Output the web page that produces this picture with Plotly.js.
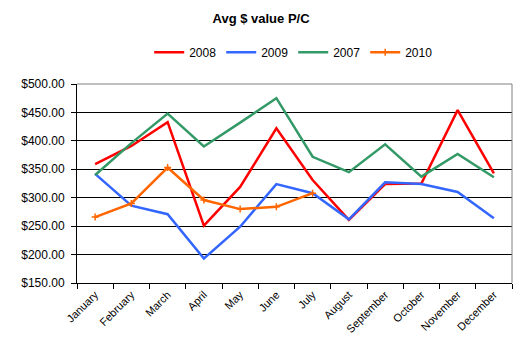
<!DOCTYPE html>
<html><head><meta charset="utf-8">
<script src="https://cdn.plot.ly/plotly-3.0.1.min.js"></script>
<style>body{margin:0;background:#fff}#c{width:519px;height:353px}</style>
</head><body><div id="c"></div>
<script>
const months = ["January","February","March","April","May","June","July","August","September","October","November","December"];
const v2008 = [359,391,433,251,319,422,331,261,324,325,454,343];
const v2009 = [342,286,271,193,249,324,308,262,327,324,310,264];
const v2007 = [340,396,448,390,432,475,372,345,394,337,377,336];
const v2010 = [266,290,353,296,280,284,308];
const yTicks = [150,200,250,300,350,400,450,500];
const yLabels = yTicks.map(v => "$" + v.toFixed(2));

const traces = [
  {name:"2008", x:months, y:v2008, mode:"lines", line:{color:"#ff0000", width:2.5}},
  {name:"2009", x:months, y:v2009, mode:"lines", line:{color:"#3366ff", width:2.5}},
  {name:"2007", x:months, y:v2007, mode:"lines", line:{color:"#339966", width:2.5}},
  {name:"2010", x:months.slice(0, v2010.length), y:v2010, mode:"lines+markers",
   line:{color:"#ff6600", width:2.5}, marker:{symbol:"cross-thin", size:5, color:"#ff6600", line:{color:"#ff6600", width:1.5}}}
];
const layout = {
  width:519, height:353,
  margin:{l:77, r:7, t:84, b:70},
  paper_bgcolor:"#fff", plot_bgcolor:"#fff",
  font:{family:"Arial, Liberation Sans, sans-serif", size:11, color:"#000"},
  title:{text:"<b>Avg $ value P/C</b>", x:0.503, xanchor:"center", y:0.948, yanchor:"middle", font:{size:13}},
  showlegend:true,
  legend:{orientation:"h", x:0.497, xanchor:"center", y:1.16, yref:"paper", yanchor:"middle", font:{size:12}, traceorder:"normal", entrywidth:27, entrywidthmode:"pixels"},
  xaxis:{type:"category", tickson:"boundaries", ticks:"outside", ticklen:5, tickcolor:"#000",
         showline:true, linecolor:"#000", linewidth:1, showgrid:false, tickangle:-45,
         tickfont:{size:11}, range:[-0.5, 11.5], fixedrange:true},
  yaxis:{range:[150,500], tickvals:yTicks, ticktext:yLabels, ticks:"outside", ticklen:5, tickcolor:"#000",
         showline:true, linecolor:"#000", linewidth:1, showgrid:true, gridcolor:"#000", gridwidth:1,
         zeroline:false, tickfont:{size:12}, ticklabelstandoff:4},
  shapes:[
    {type:"line", xref:"paper", yref:"paper", x0:0, x1:1, y0:1, y1:1, line:{color:"#808080", width:1}},
    {type:"line", xref:"paper", yref:"paper", x0:1, x1:1, y0:0, y1:1, line:{color:"#808080", width:1}}
  ]
};
Plotly.newPlot("c", traces, layout, {staticPlot:true});
</script></body></html>
